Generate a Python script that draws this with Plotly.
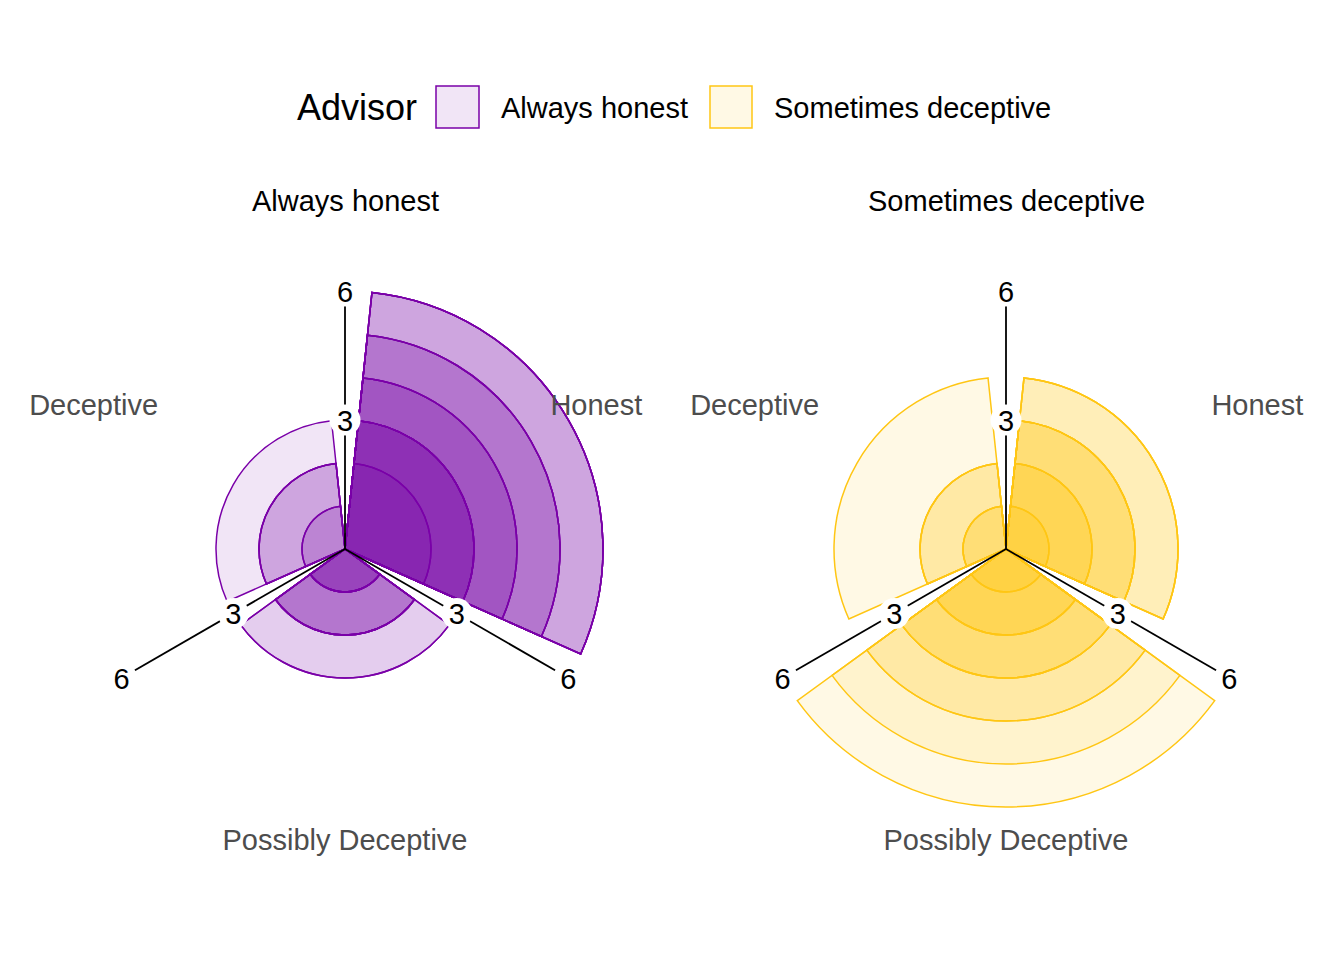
import math
import plotly.graph_objects as go

# categories around the circle (degrees, clockwise from top)
categories = ["Honest", "Possibly Deceptive", "Deceptive"]
cat_angles = [60, 180, 300]

# one bar per participant, overlaid with alpha
# Always honest advisor
ah_honest = [6, 6, 6, 6, 5, 5, 5, 4, 4, 4, 3, 3, 3, 3, 3, 2, 2]
ah_possibly = [3, 3, 2, 2, 2, 2, 2, 1, 1, 1, 1, 1]
ah_deceptive = [3, 2, 2, 2, 1, 1]

# Sometimes deceptive advisor
sd_honest = [4, 4, 4, 3, 3, 3, 3, 2, 2, 2, 1, 1]
sd_possibly = [6, 5, 4, 4, 3, 3, 3, 2, 2, 2, 1, 1]
sd_deceptive = [4, 2, 2, 2, 1, 1, 1]

# radial axis labels drawn along the spokes
spoke_angles = [0, 120, 240]
tick_values = [3, 6]

purple = "rgb(122,0,168)"
purple_fill = "rgba(120,0,165,0.10)"
yellow = "rgb(255,198,20)"
yellow_fill = "rgba(255,196,0,0.10)"

FONT = "Liberation Sans, Arial, sans-serif"
W, H = 1344, 960
OFF = 8      # page margin of the browser
UNIT = 43    # px per radial unit
TXT_DY = 3.5 # push polar text down a little (px)

panels = [
    ("polar", [ah_honest, ah_possibly, ah_deceptive], purple, purple_fill),
    ("polar2", [sd_honest, sd_possibly, sd_deceptive], yellow, yellow_fill),
]

def nudge(r, theta):
    # move a polar point TXT_DY px down on screen
    t = math.radians(theta)
    dx = r * UNIT * math.sin(t)
    dy = -r * UNIT * math.cos(t) + TXT_DY
    r2 = math.hypot(dx, dy) / UNIT
    t2 = math.degrees(math.atan2(dx, -dy)) % 360
    return r2, t2

fig = go.Figure()

for sub, data, col, fill in panels:
    thetas = []
    rs = []
    for ang, counts in zip(cat_angles, data):
        thetas += [ang] * len(counts)
        rs += counts
    fig.add_trace(go.Barpolar(
        r = rs,
        theta = thetas,
        width = [108] * len(rs),
        marker = dict(color = fill, line = dict(color = col, width = 1.5)),
        subplot = sub,
        showlegend = False,
        hoverinfo = "skip"
    ))

    # spokes
    for a in spoke_angles:
        fig.add_trace(go.Scatterpolar(
            r = [0, 6],
            theta = [a, a],
            mode = "lines",
            line = dict(color = "black", width = 1.8),
            subplot = sub,
            showlegend = False,
            hoverinfo = "skip"
        ))

    # tick labels on white background
    lab_r = []
    lab_t = []
    for a in spoke_angles:
        for v in tick_values:
            lab_r.append(v)
            lab_t.append(a)
    fig.add_trace(go.Scatterpolar(
        r = lab_r,
        theta = lab_t,
        mode = "markers",
        marker = dict(color = "white", size = 31, line = dict(width = 0)),
        subplot = sub,
        showlegend = False,
        hoverinfo = "skip"
    ))
    moved = [nudge(r, t) for r, t in zip(lab_r, lab_t)]
    fig.add_trace(go.Scatterpolar(
        r = [m[0] for m in moved],
        theta = [m[1] for m in moved],
        mode = "text",
        text = [str(v) for v in lab_r],
        textposition = "middle center",
        textfont = dict(family = FONT, size = 29, color = "black"),
        subplot = sub,
        showlegend = False,
        hoverinfo = "skip"
    ))

    # category labels
    moved = [nudge(6.75, t) for t in cat_angles]
    fig.add_trace(go.Scatterpolar(
        r = [m[0] for m in moved],
        theta = [m[1] for m in moved],
        mode = "text",
        text = categories,
        textposition = "middle center",
        textfont = dict(family = FONT, size = 29, color = "#4D4D4D"),
        subplot = sub,
        showlegend = False,
        hoverinfo = "skip"
    ))

# pixel helpers (reference pixel coords -> paper)
def px_x(x):
    return (x - OFF) / W
def px_y(y):
    return 1 - (y - OFF) / H

# polar domains: centre (345,549) and (1006,549), range 0-7
R = 7 * UNIT
def dom(cx, cy):
    return dict(x = [px_x(cx - R), px_x(cx + R)], y = [px_y(cy + R), px_y(cy - R)])

polar_common = dict(
    bgcolor = "white",
    barmode = "overlay",
    radialaxis = dict(visible = False, range = [0, 7]),
    angularaxis = dict(visible = False, direction = "clockwise", rotation = 90,
                       showgrid = False, showline = False, showticklabels = False)
)

fig.update_layout(
    width = W,
    height = H,
    margin = dict(l = 0, r = 0, t = 0, b = 0),
    paper_bgcolor = "white",
    plot_bgcolor = "white",
    font = dict(family = FONT, color = "black"),
    polar = dict(domain = dom(345, 549), **polar_common),
    polar2 = dict(domain = dom(1006, 549), **polar_common),
)

# manual legend
shapes = [
    dict(type = "rect", xref = "paper", yref = "paper",
         x0 = px_x(436), x1 = px_x(479), y0 = px_y(128), y1 = px_y(86),
         fillcolor = purple_fill, line = dict(color = purple, width = 1.5)),
    dict(type = "rect", xref = "paper", yref = "paper",
         x0 = px_x(710), x1 = px_x(752), y0 = px_y(128), y1 = px_y(86),
         fillcolor = yellow_fill, line = dict(color = yellow, width = 1.5)),
]

annotations = [
    dict(text = "Advisor", x = px_x(295), y = px_y(108), xref = "paper", yref = "paper",
         xanchor = "left", yanchor = "middle", showarrow = False,
         font = dict(family = FONT, size = 36, color = "black")),
    dict(text = "Always honest", x = px_x(499), y = px_y(108), xref = "paper", yref = "paper",
         xanchor = "left", yanchor = "middle", showarrow = False,
         font = dict(family = FONT, size = 29, color = "black")),
    dict(text = "Sometimes deceptive", x = px_x(772), y = px_y(108), xref = "paper", yref = "paper",
         xanchor = "left", yanchor = "middle", showarrow = False,
         font = dict(family = FONT, size = 29, color = "black")),
    dict(text = "Always honest", x = px_x(345), y = px_y(201), xref = "paper", yref = "paper",
         xanchor = "center", yanchor = "middle", showarrow = False,
         font = dict(family = FONT, size = 29, color = "black")),
    dict(text = "Sometimes deceptive", x = px_x(1006), y = px_y(201), xref = "paper", yref = "paper",
         xanchor = "center", yanchor = "middle", showarrow = False,
         font = dict(family = FONT, size = 29, color = "black")),
]

fig.update_layout(shapes = shapes, annotations = annotations)

fig.write_html("out.html")
